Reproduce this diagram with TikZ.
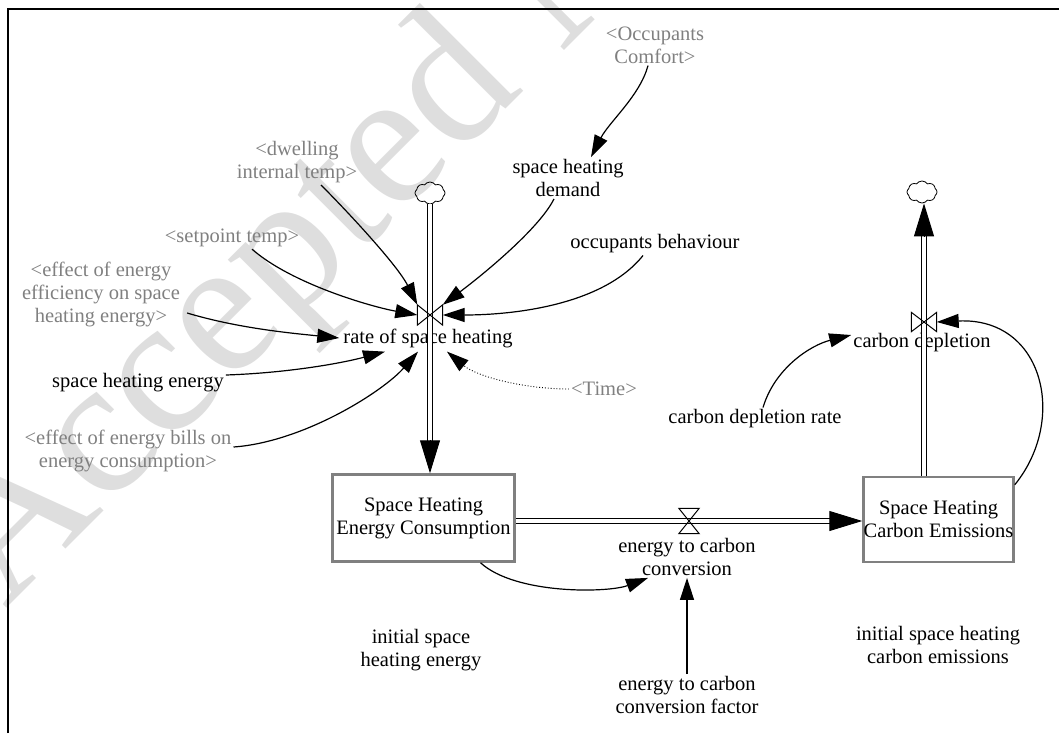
\documentclass[tikz,border=0pt]{standalone}
\usepackage{fontspec}
\setmainfont{Liberation Serif}
\usetikzlibrary{arrows.meta,shapes.symbols}

\definecolor{shadowgray}{RGB}{128,128,128}
\definecolor{markgray}{RGB}{222,222,222}

\tikzset{
  var/.style={align=center, inner sep=2pt},
  shadowvar/.style={var, text=shadowgray},
  stock/.style={draw=shadowgray, line width=2.5pt, fill=white, align=center,
    minimum width=182pt, minimum height=87pt, inner sep=0pt},
  link/.style={line width=1.2pt, -{Triangle[length=22pt,width=14pt]}},
  pipe/.style={double, double distance=4.6pt, line width=1.1pt},
  flowtip/.style={line width=1pt, -{Triangle[length=33pt,width=20pt]}},
  valve/.style={minimum width=25pt, minimum height=20pt, inner sep=0pt},
  sink/.style={cloud, cloud puffs=8, cloud puff arc=110, cloud ignores aspect,
    draw, line width=0.8pt, minimum width=30pt, minimum height=22pt, inner sep=0pt},
  watermark/.style={text=markgray, inner sep=0pt, font=\fontsize{195}{195}\selectfont}
}

% valves drawn on the pipes
\newcommand{\valvev}[1]{\draw[line width=1pt] (#1.north west) -- (#1.south west) -- (#1.north east) -- (#1.south east) -- cycle;}
\newcommand{\valveh}[1]{\draw[line width=1pt] (#1.north west) -- (#1.north east) -- (#1.south west) -- (#1.south east) -- cycle;}

\begin{document}
\begin{tikzpicture}[x=1pt, y=-1pt, every node/.append style={font=\fontsize{20.5}{23}\selectfont}]
\useasboundingbox (0,0) rectangle (1059,733);

% watermark
\begin{scope}
\clip (0,0) rectangle (1059,733);
\node[watermark, anchor=base west, rotate=45] (wm) at (5,610) {Accepted Manuscript};
\end{scope}

% frame
\draw[line width=2pt] (7.5,733) -- (7.5,9) -- (1059,9);

% variables
\node[shadowvar] (occ) at (655,45) {<Occupants\\Comfort>};
\node[var] (demand) at (568,178) {space heating\\demand};
\node[shadowvar] (dwell) at (297,162) {<dwelling\\internal temp>};
\node[shadowvar] (setp) at (232,238) {<setpoint temp>};
\node[shadowvar] (effeff) at (101,294) {<effect of energy\\efficiency on space\\heating energy>};
\node[var] (occbeh) at (655,244) {occupants behaviour};
\node[var, inner sep=4pt] (rate) at (428,338) {rate of space heating};
\node[var] (she) at (138,383) {space heating energy};
\node[shadowvar] (bills) at (128,451) {<effect of energy bills on\\energy consumption>};
\node[shadowvar] (time) at (604,389) {<Time>};
\node[var] (initE) at (421,650) {initial space\\heating energy};
\node[var] (conv) at (687,557) {energy to carbon\\conversion};
\node[var] (factor) at (687,695) {energy to carbon\\conversion factor};
\node[var] (initC) at (938,645) {initial space heating\\carbon emissions};
\node[var] (cdrate) at (755,419) {carbon depletion rate};
\node[var] (cdep) at (922,343) {carbon depletion};

% stocks
\node[stock] (stockE) at (423.5,518) {Space Heating\\Energy Consumption};
\node[stock, minimum width=150pt, minimum height=85pt] (stockC) at (938.5,519.5) {Space Heating\\Carbon Emissions};

% valves and clouds
\node[valve] (valveA) at (430,315) {};
\node[valve, minimum height=19pt] (valveB) at (924,322) {};
\node[valve, minimum width=20pt, minimum height=25pt] (valveC) at (689,521) {};
\node[sink] (cloudA) at (430,193) {};
\node[sink] (cloudB) at (922,192) {};

% flows
\coordinate (inA) at (cloudA |- stockE.north);
\draw[pipe, shorten >=30pt] (cloudA.south) -- (inA);
\draw[flowtip] ([yshift=33pt]inA) -- (inA);
\valvev{valveA}

\coordinate (outE) at (stockE.east |- valveC);
\coordinate (inC) at (stockC.west |- valveC);
\draw[pipe, shorten >=29pt] (outE) -- (inC);
\draw[flowtip] ([xshift=-32pt]inC) -- (inC);
\valveh{valveC}

\coordinate (outC) at (valveB |- stockC.north);
\coordinate (topB) at (valveB |- cloudB.south);
\draw[pipe, shorten >=30pt] (outC) -- (topB);
\draw[flowtip] ([yshift=-33pt]topB) -- (topB);
\valvev{valveB}

% links
\draw[link] ([xshift=-7pt]occ.south) .. controls +(-8,30) and +(18,-35) .. ([xshift=23pt]demand.north);
\draw[link] ([xshift=-14pt]demand.south) .. controls +(-15,30) and +(40,-30) .. (valveA.north east);
\draw[link] ([xshift=24pt]dwell.south) .. controls +(25,25) and +(-20,-40) .. (valveA.north west);
\draw[link] ([xshift=20pt]setp.south) .. controls +(40,35) and +(-45,-8) .. (valveA.west);
\draw[link] ([xshift=-12pt]occbeh.south) .. controls +(-40,50) and +(70,0) .. (valveA.east);
\draw[link] ([xshift=5pt,yshift=-19pt]effeff.east) .. controls +(50,15) and +(-50,-5) .. (rate.west);
\draw[link] ([yshift=8pt]she.east) .. controls +(60,-2) and +(-45,12) .. ([xshift=-43pt]rate.south);
\draw[link] ([yshift=4pt]bills.east) .. controls +(70,-5) and +(-35,40) .. ([xshift=-10pt]rate.south);
\draw[link, line width=0.9pt, dotted] (time.west) .. controls +(-45,0) and +(30,25) .. ([xshift=19pt]rate.south);
\draw[link] ([xshift=57pt]stockE.south) .. controls +(35,32) and +(-40,15) .. ([xshift=-39pt]conv.south);
\draw[link] (factor.north) -- (conv.south);
\draw[link] ([xshift=8pt]cdrate.north) .. controls +(12,-40) and +(-40,10) .. ([yshift=8pt]cdep.west);
\draw[link] ([yshift=-9pt]stockC.north east) .. controls +(53,-65) and +(107,-5) .. (valveB.east);

\end{tikzpicture}
\end{document}
